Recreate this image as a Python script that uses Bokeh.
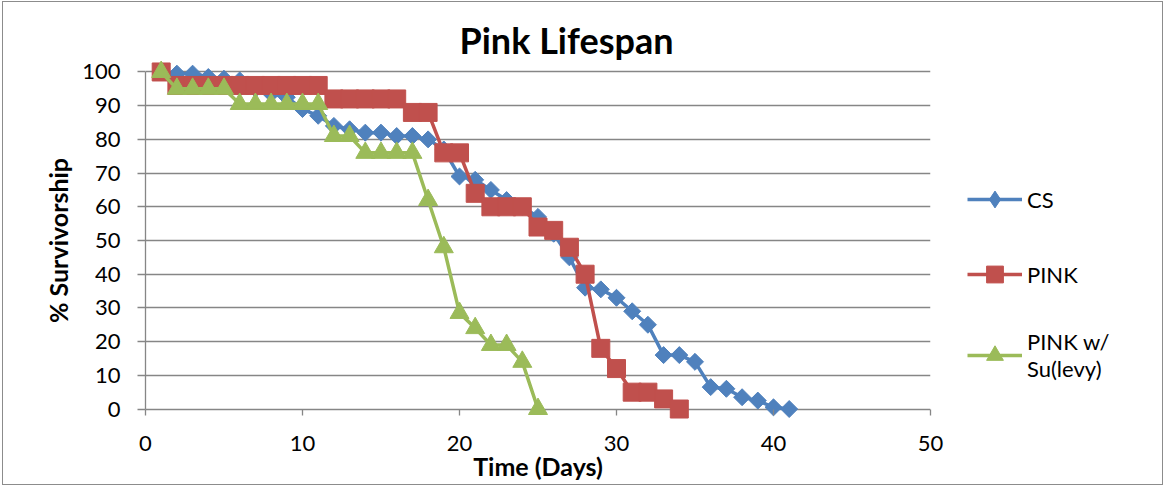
import math

from bokeh.embed import file_html
from bokeh.models import FixedTicker, InlineStyleSheet, Legend, LegendItem, Range1d
from bokeh.plotting import figure
from bokeh.resources import INLINE

# Percent of flies still alive on each day
cs_days = list(range(1, 42))
cs_surv = [100, 99.5, 99.5, 98.5, 98, 97.5, 95, 93.5, 92.5, 89, 87, 84, 83,
           82, 82, 81, 81, 80, 77, 69, 68, 65, 62, 60, 57, 52, 45, 36, 35.5,
           33, 29, 25, 16, 16, 14, 6.5, 6, 3.5, 2.5, 0.5, 0]

pink_days = list(range(1, 35))
pink_surv = [100, 96, 96, 96, 96, 96, 96, 96, 96, 96, 96, 92, 92, 92, 92, 92,
             88, 88, 76, 76, 64, 60, 60, 60, 54, 53, 48, 40, 18, 12, 5, 5, 3, 0]

levy_days = list(range(1, 26))
levy_surv = [100, 95, 95, 95, 95, 90.5, 90.5, 90.5, 90.5, 90.5, 90.5, 81, 81,
             76, 76, 76, 76, 62, 48, 28.5, 24, 19, 19, 14, 0]

x_ticks = [0, 10, 20, 30, 40, 50]
y_ticks = list(range(0, 101, 10))

FONT = "Lato"
GREY = "#868686"
BLUE = "#4F81BD"
RED = "#C0504D"
GREEN = "#9BBB59"

# thin grey frame round the whole chart
frame_css = InlineStyleSheet(css="""
:host::after {
  content: "";
  position: absolute;
  left: 2px; top: 1px;
  width: 1161px; height: 484px;
  box-sizing: border-box;
  border: 1px solid #8c8c8c;
  pointer-events: none;
  z-index: 100;
}
""")

p = figure(frame_width=785, frame_height=364,
           min_border_left=145, min_border_right=235,
           min_border_top=58, min_border_bottom=64,
           x_range=Range1d(0, 50), y_range=Range1d(-4, 104),
           output_backend="svg", toolbar_location=None,
           background_fill_color="white", border_fill_color="white",
           stylesheets=[frame_css])
p.outline_line_color = None

p.title.text = "Pink Lifespan"
p.title.align = "left"
p.title.offset = 314
p.title.standoff = -7
p.title.text_font = FONT
p.title.text_font_size = "36px"
p.title.text_font_style = "bold"
p.title.text_color = "black"

# horizontal gridlines only; the line at 0 doubles as the x axis line
p.xgrid.visible = False
p.ygrid.ticker = FixedTicker(ticks=y_ticks)
p.ygrid.grid_line_color = GREY
p.ygrid.grid_line_width = 1.3

# the frame reaches a little below 0, so ticks are pulled up onto y = 0
xa = p.xaxis[0]
xa.ticker = FixedTicker(ticks=x_ticks)
xa.axis_line_color = None
xa.major_tick_line_color = GREY
xa.major_tick_line_width = 1.3
xa.major_tick_in = 13
xa.major_tick_out = -7
xa.minor_tick_line_color = None
xa.major_label_text_font = FONT
xa.major_label_text_font_size = "22px"
xa.major_label_text_color = "black"
xa.major_label_standoff = 13
xa.axis_label = "Time (Days)"
xa.axis_label_text_font = FONT
xa.axis_label_text_font_style = "bold"
xa.axis_label_text_font_size = "25px"
xa.axis_label_text_color = "black"
xa.axis_label_standoff = -3

ya = p.yaxis[0]
ya.bounds = (0, 100)
ya.ticker = FixedTicker(ticks=y_ticks)
ya.axis_line_color = GREY
ya.axis_line_width = 1.3
ya.major_tick_line_color = GREY
ya.major_tick_line_width = 1.3
ya.major_tick_out = 8
ya.major_tick_in = 0
ya.minor_tick_line_color = None
ya.major_label_text_font = FONT
ya.major_label_text_font_size = "22px"
ya.major_label_text_color = "black"
ya.major_label_standoff = 17
ya.axis_label = "% Survivorship"
ya.axis_label_text_font = FONT
ya.axis_label_text_font_style = "bold"
ya.axis_label_text_font_size = "25px"
ya.axis_label_text_color = "black"
ya.axis_label_standoff = 6


def series(days, vals, color, marker, size, angle=0.0):
    ln = p.line(days, vals, line_color=color, line_width=3.5)
    mk = p.scatter(days, vals, marker=marker, size=size, angle=angle,
                   fill_color=color, line_color=color)
    return [ln, mk]


# CS: the legend draws markers unrotated, so a small diamond sits under each
# rotated square and serves as the legend swatch
cs_line = p.line(cs_days, cs_surv, line_color=BLUE, line_width=3.5)
cs_key = p.scatter(cs_days, cs_surv, marker="diamond", size=12,
                   fill_color=BLUE, line_color=BLUE)
p.scatter(cs_days, cs_surv, marker="square", size=12, angle=math.pi / 4,
          fill_color=BLUE, line_color=BLUE)

pink_r = series(pink_days, pink_surv, RED, "square", 18)
levy_r = series(levy_days, levy_surv, GREEN, "triangle", 19)

legend = Legend(items=[LegendItem(label="CS", renderers=[cs_line, cs_key]),
                       LegendItem(label="PINK", renderers=pink_r),
                       LegendItem(label="PINK w/\nSu(levy)", renderers=levy_r)],
                location=(37, 40), orientation="vertical",
                glyph_width=55, glyph_height=42, label_height=20,
                spacing=33, padding=0, margin=0, label_standoff=5,
                border_line_color=None, background_fill_alpha=0,
                label_text_font=FONT, label_text_font_size="22px",
                label_text_color="black")
p.add_layout(legend, "right")

open("out.html", "w").write(file_html(p, INLINE))
